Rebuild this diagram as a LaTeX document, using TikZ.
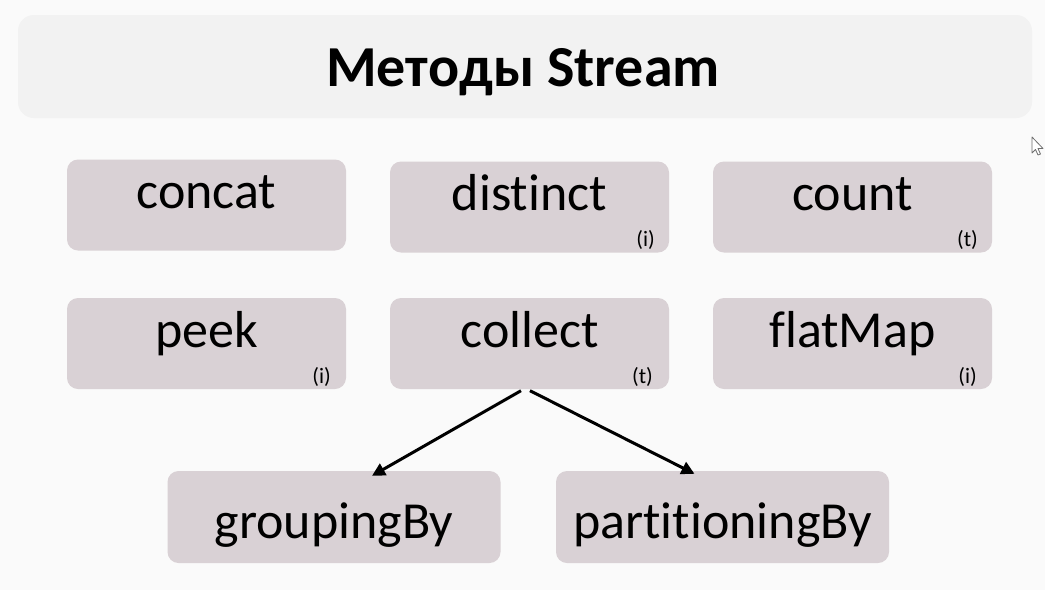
\documentclass[tikz,border=0pt]{standalone}
\usepackage{fontspec}
\setmainfont{Carlito}[RawFeature={-liga;-clig;-dlig}]
\usetikzlibrary{arrows.meta,calc}
\definecolor{pagebg}{HTML}{FAFAFA}
\definecolor{titlebg}{HTML}{F2F2F2}
\definecolor{boxbg}{HTML}{D9D1D5}
\definecolor{cursorgray}{HTML}{6E6E6E}
\tikzset{
  titlebox/.style={fill=titlebg, draw=none, rounded corners=16pt, minimum width=1014pt, minimum height=103pt, inner sep=0pt},
  methodbox/.style={fill=boxbg, draw=none, rounded corners=11pt, minimum width=279pt, minimum height=91pt, inner sep=0pt},
  widebox/.style={methodbox, minimum width=333pt, minimum height=92pt},
  methodtext/.style={anchor=base, inner sep=0pt, font=\fontsize{52}{60}\selectfont},
  tagtext/.style={anchor=base east, inner sep=0pt, font=\fontsize{22}{26}\selectfont},
  linkarrow/.style={line width=3pt, -{Triangle[length=13pt,width=13pt]}},
}
\begin{document}
\begin{tikzpicture}[x=1pt,y=-1pt]
  \useasboundingbox (0,0) rectangle (1045,590);
  \fill[pagebg] (0,0) rectangle (1045,590);

  % heading
  \node[titlebox] (title) at (525,66.5) {};
  \node[anchor=base, inner sep=0pt, font=\bfseries\fontsize{58}{66}\selectfont] (titletext) at (523,86) {Методы Stream};

  % first row
  \node[methodbox] (concat) at (206.5,205) {};
  \node[methodbox] (distinct) at (529.5,207) {};
  \node[methodbox] (count) at (852.5,207) {};
  \node[methodtext] (concatlbl) at (206.5,208) {concat};
  \node[methodtext] (distinctlbl) at (529.5,210) {distinct};
  \node[methodtext] (countlbl) at (852.5,210) {count};
  \node[tagtext] (distincttag) at (655,246) {(i)};
  \node[tagtext] (counttag) at (978,246) {(t)};

  % second row
  \node[methodbox] (peek) at (206.5,343.5) {};
  \node[methodbox] (collect) at (529.5,343.5) {};
  \node[methodbox] (flatmap) at (852.5,343.5) {};
  \node[methodtext] (peeklbl) at (206.5,347) {peek};
  \node[methodtext] (collectlbl) at (529.5,347) {collect};
  \node[methodtext] (flatmaplbl) at (852.5,347) {flatMap};
  \node[tagtext] (peektag) at (331,383) {(i)};
  \node[tagtext] (collecttag) at (653,383) {(t)};
  \node[tagtext] (flatmaptag) at (977,383) {(i)};

  % third row
  \node[widebox] (grouping) at (334,517) {};
  \node[widebox] (partitioning) at (722.5,517) {};
  \node[methodtext] (groupinglbl) at (334,538) {groupingBy};
  \node[methodtext] (partitioninglbl) at (722.5,538) {partitioningBy};

  % collect branches into its two collectors
  \draw[linkarrow] ($(collect.south)+(-8.5,1.5)$) -- ($(grouping.north)+(38,5)$);
  \draw[linkarrow] ($(collect.south)+(0.5,1.5)$) -- ($(partitioning.north)+(-28,3)$);

  % mouse pointer
  \filldraw[fill=white, draw=cursorgray, line width=0.8pt, line join=round]
    (1032,137) -- (1032,153) -- (1035.5,149.5) -- (1038,155) -- (1040.5,154) -- (1038,148.5) -- (1043,148.5) -- cycle;
\end{tikzpicture}
\end{document}
